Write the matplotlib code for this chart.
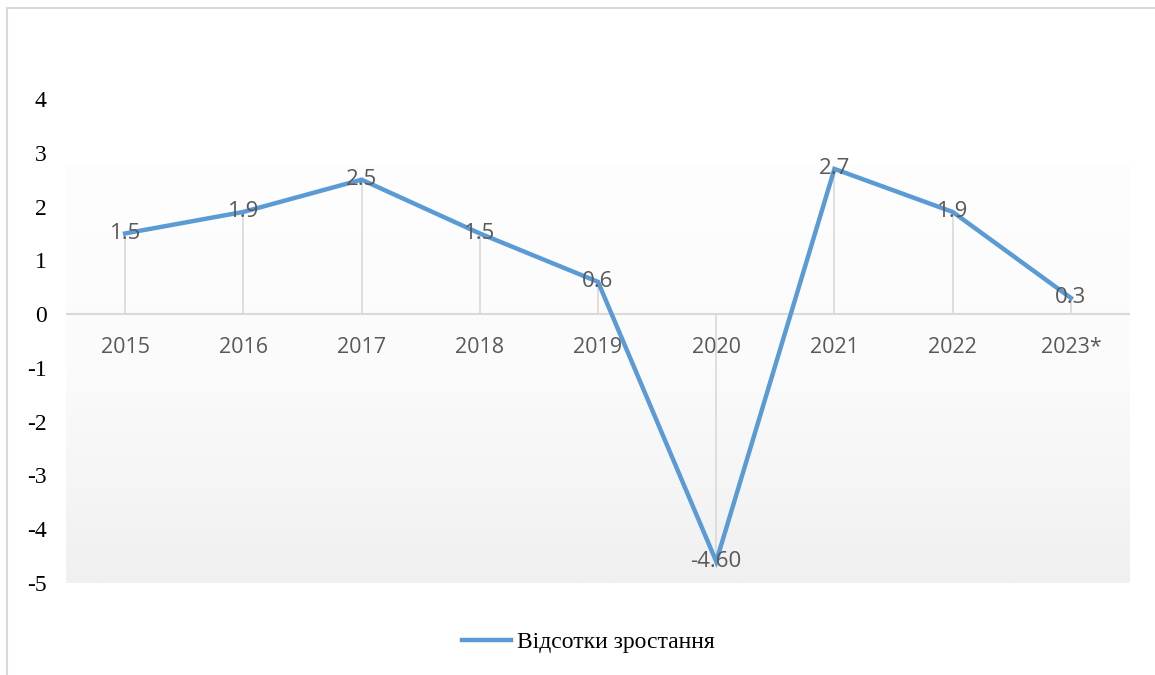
# -*- coding: utf-8 -*-
# Лінійний графік відсотків зростання 2015–2023* з вертикальними лініями до осі
import numpy as np
import matplotlib
matplotlib.use("Agg")
import matplotlib.pyplot as plt
from matplotlib.colors import LinearSegmentedColormap
from matplotlib.patches import Rectangle

years = ["2015", "2016", "2017", "2018", "2019", "2020", "2021", "2022", "2023*"]
growth = [1.5, 1.9, 2.5, 1.5, 0.6, -4.6, 2.7, 1.9, 0.3]
point_labels = ["1.5", "1.9", "2.5", "1.5", "0.6", "-4.60", "2.7", "1.9", "0.3"]
y_ticks = [4, 3, 2, 1, 0, -1, -2, -3, -4, -5]
series_name = "Відсотки зростання"

LINE = "#5b9bd5"
GRID = "#d9d9d9"
TEXT_GREY = "#595959"
SANS = ["Open Sans", "DejaVu Sans"]
SERIF = ["Liberation Serif", "DejaVu Serif"]

fig = plt.figure(figsize=(11.55, 6.75), dpi=100)
fig.patches.append(Rectangle((7 / 1155, -0.1), 1.2, 1 - 8 / 675 + 0.1,
                             transform=fig.transFigure, fill=False,
                             edgecolor=GRID, linewidth=1.5))

ax = fig.add_axes([66 / 1155, 1 - 583 / 675, (1130 - 66) / 1155, (583 - 99) / 675])
x = np.arange(len(years))
ax.set_xlim(-0.5, len(years) - 0.5)
ax.set_ylim(-5, 4)

# фон області побудови: світлий градієнт донизу
cmap = LinearSegmentedColormap.from_list("bg", ["#fefefe", "#fbfbfb", "#f0f0f0"])
grad = np.linspace(0, 1, 256).reshape(-1, 1)
ax.imshow(grad, cmap=cmap, aspect="auto", extent=(-0.5, len(years) - 0.5, -5, 2.8),
          origin="upper", zorder=0)

for side in ax.spines.values():
    side.set_visible(False)

ax.axhline(0, color=GRID, linewidth=1.5, zorder=1)
ax.vlines(x, 0, growth, colors=GRID, linewidth=1.2, zorder=1)
line, = ax.plot(x, growth, color=LINE, linewidth=3.2, solid_joinstyle="miter",
                label=series_name, zorder=3)

for xi, yi, lab in zip(x, growth, point_labels):
    ax.text(xi, yi, lab, ha="center", va="center", fontsize=16,
            color=TEXT_GREY, family=SANS, zorder=4)

ax.set_yticks(y_ticks)
ax.set_yticklabels([str(v) for v in y_ticks], family=SERIF, fontsize=17, color="black")
ax.tick_params(axis="y", length=0, pad=14)
ax.set_xticks([])

for xi, name in zip(x, years):
    ax.text(xi, -0.62, name, ha="center", va="center", fontsize=15.5,
            color=TEXT_GREY, family=SANS, zorder=4)

fig.legend(handles=[line], labels=[series_name], loc="center",
           bbox_to_anchor=(0.5095, 1 - 642 / 675), frameon=False,
           prop={"family": SERIF, "size": 17}, handlelength=2.1, handletextpad=0.25)

fig.savefig("out.png", dpi=100, facecolor="white")
